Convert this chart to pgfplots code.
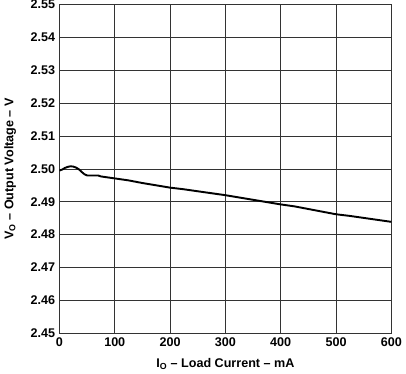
\documentclass[border=0pt]{standalone}
\usepackage{pgfplots}
\pgfplotsset{compat=1.18}
\usepackage{fontspec}
\setmainfont{Liberation Sans}
\begin{document}
\fontsize{12.5pt}{15pt}\selectfont\bfseries
\begin{tikzpicture}
\begin{axis}[
  scale only axis,
  width=330pt, height=327pt,
  xmin=0, xmax=600, ymin=2.45, ymax=2.55,
  xtick={0,100,...,600},
  ytick={2.45,2.46,...,2.551},
  yticklabel style={inner ysep=0pt, /pgf/number format/.cd, fixed, fixed zerofill, precision=2},
  /pgf/number format/assume math mode=true,
  ticklabel style={font=\fontsize{12.5pt}{15pt}\selectfont\bfseries},
  label style={font=\fontsize{12.5pt}{15pt}\selectfont\bfseries},
  grid=major,
  grid style={black!80, line width=0.6pt},
  axis line style={black!80, line width=0.8pt},
  major tick length=0pt,
  xlabel={I\textsubscript{O} -- Load Current -- mA},
  ylabel={V\textsubscript{O} -- Output Voltage -- V},
  xlabel style={yshift=-3pt},
  ylabel style={yshift=6pt},
]
\addplot[black, line width=1.9pt] coordinates {
(0,2.4995) (5,2.4998) (10,2.5003) (15,2.5006) (20,2.5008) (25,2.5007) (30,2.5004) (35,2.4999) (40,2.4991) (45,2.4984) (50,2.4980) (60,2.4980) (70,2.4980) (75,2.4977) (100,2.4971) (125,2.4965) (150,2.4957) (175,2.4950) (200,2.4943) (225,2.4938) (250,2.4932) (275,2.4926) (300,2.4920) (325,2.4913) (350,2.4906) (375,2.4899) (400,2.4892) (425,2.4886) (450,2.4878) (475,2.4870) (500,2.4862) (525,2.4857) (550,2.4851) (575,2.4845) (600,2.4839)
};
\end{axis}
\end{tikzpicture}
\end{document}
